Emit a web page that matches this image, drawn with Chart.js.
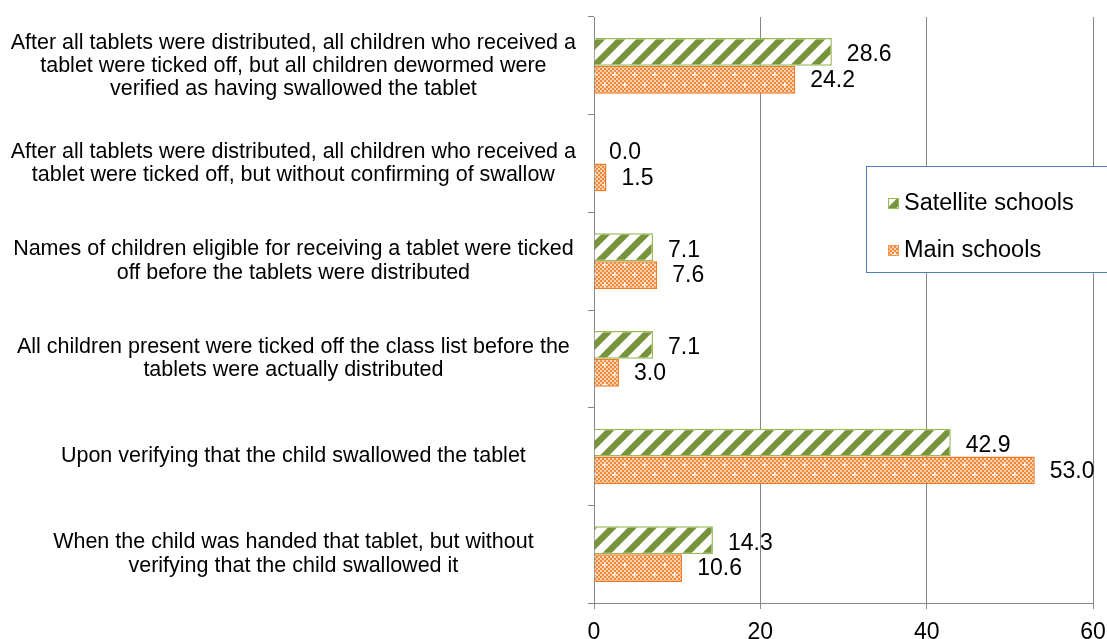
<!DOCTYPE html>
<html>
<head>
<meta charset="utf-8">
<script src="https://cdn.jsdelivr.net/npm/chart.js@4/dist/chart.umd.min.js"></script>
<style>
  html, body { margin: 0; padding: 0; background: #fff; overflow: hidden; }
  #wrap { width: 1107px; height: 660px; }
</style>
</head>
<body>
<div id="wrap"><canvas id="chart" width="1107" height="660"></canvas></div>
<script>
// ── Data ─────────────────────────────────────────
const categories = [
  ['After all tablets were distributed, all children who received a', 'tablet were ticked off, but all children dewormed were', 'verified as having swallowed the tablet'],
  ['After all tablets were distributed, all children who received a', 'tablet were ticked off, but without confirming of swallow'],
  ['Names of children eligible for receiving a tablet were ticked', 'off before the tablets were distributed'],
  ['All children present were ticked off the class list before the', 'tablets were actually distributed'],
  'Upon verifying that the child swallowed the tablet',
  ['When the child was handed that tablet, but without', 'verifying that the child swallowed it'],
];
const satellite = [28.6, 0.0, 7.1, 7.1, 42.9, 14.3];
const main      = [24.2, 1.5, 7.6, 3.0, 53.0, 10.6];
const seriesNames = ['Satellite schools', 'Main schools'];
const xTicks = [0, 20, 40, 60];

const FONT = "'Liberation Sans', Arial, sans-serif";

// ── Fill patterns ───────────────────────────────
function stripePattern() {
  const c = document.createElement('canvas');
  c.width = 20; c.height = 20;
  const g = c.getContext('2d');
  g.fillStyle = '#ffffff';
  g.fillRect(0, 0, 20, 20);
  g.strokeStyle = '#77933C';
  g.lineWidth = 6.5;
  for (const off of [-20, 0, 20]) {
    g.beginPath();
    g.moveTo(off - 5, 25);
    g.lineTo(off + 25, -5);
    g.stroke();
  }
  return g.createPattern(c, 'repeat');
}

function dotPattern() {
  const c = document.createElement('canvas');
  c.width = 20; c.height = 20;
  const g = c.getContext('2d');
  for (let y = 0; y < 20; y += 2) {
    for (let x = 0; x < 20; x += 2) {
      g.fillStyle = ((x + y) / 2) % 2 ? '#FBD2B2' : '#F2893A';
      g.fillRect(x, y, 2, 2);
    }
  }
  g.fillStyle = '#ffffff';
  const plus = (px, py) => { g.fillRect(px - 2, py, 5, 1); g.fillRect(px, py - 2, 1, 5); };
  plus(4, 4);
  plus(14, 14);
  return g.createPattern(c, 'repeat');
}

const greenFill  = stripePattern();
const orangeFill = dotPattern();

// ── Plugins ─────────────────────────────────────
const valueLabels = {
  id: 'valueLabels',
  afterDatasetsDraw(chart) {
    const ctx = chart.ctx;
    ctx.save();
    ctx.font = '23px ' + FONT;
    ctx.fillStyle = '#000';
    ctx.textAlign = 'left';
    ctx.textBaseline = 'middle';
    chart.data.datasets.forEach((ds, di) => {
      const dy = di === 0 ? 3 : 1;
      chart.getDatasetMeta(di).data.forEach((bar, i) => {
        ctx.fillText(ds.data[i].toFixed(1), bar.x + 15, bar.y + dy);
      });
    });
    ctx.restore();
  }
};

const boxLegend = {
  id: 'boxLegend',
  afterDraw(chart) {
    const ctx = chart.ctx;
    ctx.save();
    ctx.fillStyle = '#fff';
    ctx.fillRect(866, 166, 242, 107);
    ctx.strokeStyle = '#4F81BD';
    ctx.lineWidth = 1;
    ctx.strokeRect(866.5, 166.5, 241, 106);
    const rows = [
      { y: 203, fill: greenFill,  border: '#9BBB59' },
      { y: 250, fill: orangeFill, border: '#F79646' },
    ];
    ctx.font = '23.5px ' + FONT;
    ctx.textBaseline = 'middle';
    rows.forEach((r, i) => {
      ctx.fillStyle = r.fill;
      ctx.fillRect(888, r.y - 5, 11, 11);
      ctx.strokeStyle = r.border;
      ctx.strokeRect(888.5, r.y - 4.5, 10, 10);
      ctx.fillStyle = '#000';
      ctx.fillText(seriesNames[i], 904, r.y + 1);
    });
    ctx.restore();
  }
};

function noPad(s) {
  s.paddingTop = 0; s.paddingBottom = 0; s.paddingLeft = 0; s.paddingRight = 0;
}

// ── Chart ───────────────────────────────────────
new Chart(document.getElementById('chart'), {
  type: 'bar',
  data: {
    labels: categories,
    datasets: [
      { label: seriesNames[0], data: satellite, backgroundColor: greenFill,  borderColor: '#9BBB59', borderWidth: 1.5 },
      { label: seriesNames[1], data: main,      backgroundColor: orangeFill, borderColor: '#F07A26', borderWidth: 1.5 },
    ],
  },
  options: {
    indexAxis: 'y',
    responsive: false,
    animation: false,
    categoryPercentage: 0.57,
    barPercentage: 1.0,
    layout: { padding: { top: 17, right: 14, bottom: 17, left: 0 } },
    plugins: { legend: { display: false }, tooltip: { enabled: false } },
    scales: {
      x: {
        min: 0, max: 60,
        afterBuildTicks: s => { s.ticks = xTicks.map(v => ({ value: v })); },
        afterFit: s => { s.height = 40; noPad(s); },
        ticks: { color: '#000', font: { family: FONT, size: 23 }, padding: 10 },
        grid: { color: '#868686', lineWidth: 1, tickLength: 6 },
        border: { color: '#868686', width: 1 },
      },
      y: {
        afterFit: s => { s.width = 594; noPad(s); },
        ticks: { color: '#000', crossAlign: 'center', padding: 12, font: { family: FONT, size: 21.5, lineHeight: 1.08 } },
        grid: { offset: true, drawOnChartArea: false, color: '#868686', tickLength: 6 },
        border: { color: '#868686', width: 1 },
      },
    },
  },
  plugins: [valueLabels, boxLegend],
});
</script>
</body>
</html>
